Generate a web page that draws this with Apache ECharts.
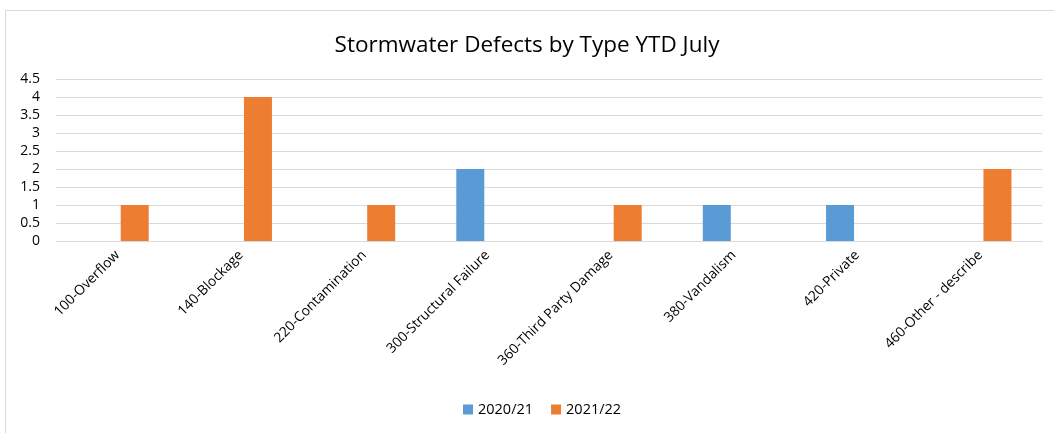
<!DOCTYPE html>
<html>
<head>
<meta charset="utf-8">
<script src="https://cdn.jsdelivr.net/npm/echarts@6/dist/echarts.min.js"></script>
<style>
  body { margin: 0; background: #fff; }
  #chart { width: 1054px; height: 433px; }
</style>
</head>
<body>
<div id="chart"></div>
<script>
// categories and values
const categories = ['100-Overflow', '140-Blockage', '220-Contamination', '300-Structural Failure',
  '360-Third Party Damage', '380-Vandalism', '420-Private', '460-Other - describe'];
const seriesNames = ['2020/21', '2021/22'];
const values2020 = [null, null, null, 2, null, 1, 1, null];
const values2021 = [1, 4, 1, null, 1, null, null, 2];
const yTicks = { min: 0, max: 4.5, interval: 0.5 };

const font = '"Open Sans", "Liberation Sans", sans-serif';

const chart = echarts.init(document.getElementById('chart'));
chart.setOption({
  animation: false,
  title: {
    text: 'Stormwater Defects by Type YTD July',
    left: 'center',
    top: 29,
    textStyle: { fontFamily: font, fontSize: 22.5, fontWeight: 'normal', color: '#000' }
  },
  graphic: [{
    type: 'rect',
    shape: { x: 5.5, y: 10.5, width: 1060, height: 440 },
    style: { fill: 'none', stroke: '#d9d9d9', lineWidth: 1 }
  }],
  legend: {
    bottom: 11,
    left: 458,
    itemWidth: 10,
    itemHeight: 10,
    itemGap: 18,
    icon: 'rect',
    textStyle: { fontFamily: font, fontSize: 14.5, color: '#000' },
    data: seriesNames
  },
  grid: { left: 56, right: 12, top: 79, bottom: 192 },
  xAxis: {
    type: 'category',
    data: categories,
    axisLine: { lineStyle: { color: '#d9d9d9' } },
    axisTick: { show: false },
    axisLabel: { rotate: 45, interval: 0, fontFamily: font, fontSize: 13.8, color: '#000', margin: 12 }
  },
  yAxis: {
    type: 'value',
    min: yTicks.min,
    max: yTicks.max,
    interval: yTicks.interval,
    axisLine: { show: false },
    axisTick: { show: false },
    splitLine: { lineStyle: { color: '#d9d9d9' } },
    axisLabel: { fontFamily: font, fontSize: 14, color: '#000', margin: 16 }
  },
  series: [
    {
      name: seriesNames[0],
      type: 'bar',
      data: values2020,
      itemStyle: { color: '#5b9bd5' },
      barWidth: 28,
      barGap: '22%'
    },
    {
      name: seriesNames[1],
      type: 'bar',
      data: values2021,
      itemStyle: { color: '#ed7d31' },
      barWidth: 28,
      barGap: '22%'
    }
  ]
});
</script>
</body>
</html>
